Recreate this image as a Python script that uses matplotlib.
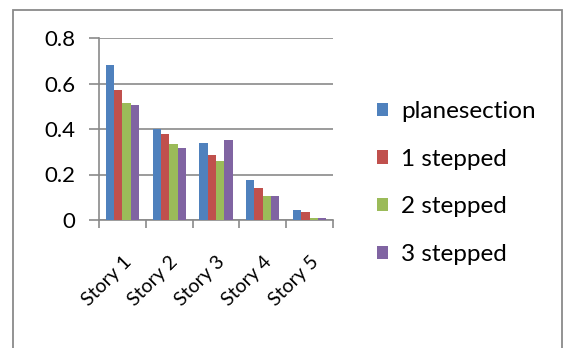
import numpy as np
import matplotlib.pyplot as plt
from matplotlib.patches import Rectangle

# data
stories = ['Story 1', 'Story 2', 'Story 3', 'Story 4', 'Story 5']
series_names = ['planesection', '1 stepped', '2 stepped', '3 stepped']
planesection = [0.68, 0.40, 0.34, 0.175, 0.045]
stepped_1 = [0.57, 0.38, 0.285, 0.142, 0.037]
stepped_2 = [0.515, 0.333, 0.26, 0.104, 0.008]
stepped_3 = [0.505, 0.318, 0.352, 0.104, 0.01]
yticks = [0, 0.2, 0.4, 0.6, 0.8]
ytick_labels = ['0', '0.2', '0.4', '0.6', '0.8']

colors = ['#4F81BD', '#C0504D', '#9BBB59', '#8064A2']
grey = '#8a8a8a'

plt.rcParams['font.family'] = ['Lato', 'DejaVu Sans']

fig = plt.figure(figsize=(5.64, 3.48), dpi=100)
ax = fig.add_axes([99 / 564, 1 - 220 / 348, 234 / 564, 182 / 348])

# outer chart border (bottom edge runs off the picture)
fig.patches.append(Rectangle((13 / 564, -0.05), 549 / 564, 1.05 - 10 / 348,
                             transform=fig.transFigure, fill=False,
                             edgecolor=grey, linewidth=1.3))

x = np.arange(len(stories))
w = 0.178
all_series = [planesection, stepped_1, stepped_2, stepped_3]
for i, vals in enumerate(all_series):
    ax.bar(x + (i - 1.5) * w, vals, width=w, color=colors[i],
           label=series_names[i], zorder=3)

ax.set_xlim(-0.5, len(stories) - 0.5)
ax.set_ylim(0, 0.8)
ax.set_yticks(yticks)
ax.set_yticklabels(ytick_labels, fontsize=16)
ax.yaxis.grid(True, color=grey, linewidth=1.2, zorder=0)
ax.set_axisbelow(True)

# category ticks sit on the boundaries
ax.set_xticks(np.arange(len(stories) + 1) - 0.5)
ax.set_xticklabels([])
ax.set_xticks(x, minor=True)
ax.set_xticklabels(stories, minor=True, rotation=45, ha='right',
                   rotation_mode='anchor', fontsize=14)
ax.tick_params(axis='x', which='minor', length=0, pad=24)
ax.tick_params(axis='x', which='major', length=6, color=grey, width=1.2)
ax.tick_params(axis='y', length=7, color=grey, width=1.2, pad=10)

for s in ['top', 'right']:
    ax.spines[s].set_visible(False)
for s in ['left', 'bottom']:
    ax.spines[s].set_color(grey)
    ax.spines[s].set_linewidth(1.2)

handles, labels = ax.get_legend_handles_labels()
fig.legend(handles, labels, loc='center left',
           bbox_to_anchor=(355 / 564, 1 - 183 / 348), frameon=False,
           fontsize=17.5, handlelength=0.45, handleheight=0.45,
           handletextpad=0.55, labelspacing=1.1)

fig.savefig('out.png', dpi=100)
